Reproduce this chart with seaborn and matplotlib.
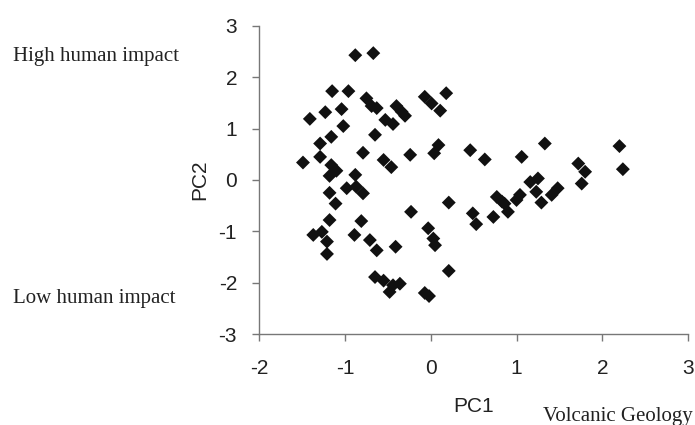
import matplotlib
matplotlib.use("Agg")
import matplotlib.pyplot as plt
import seaborn as sns
import pandas as pd

pc1 = [-0.88, -0.67, -1.15, -0.96, -1.41, -1.23, -1.04, -1.02, -1.16, -1.29,
       -1.29, -1.49, -0.75, -0.69, -0.63, -0.53, -0.44, -0.40, -0.30, -0.65,
       -0.79, -0.55, -0.46, -0.24, -0.07, 0.01, 0.11, 0.18, 0.09, 0.04,
       -1.16, -1.10, -1.18, -0.88, -0.98, -0.87, -0.79, -1.18, -1.11, -1.18,
       -1.37, -1.27, -1.21, -1.21, -0.81, -0.89, -0.71, -0.63, -0.41, -0.23,
       -0.65, -0.55, -0.44, -0.36, -0.48, -0.07, -0.02, -0.03, 0.03, 0.05,
       0.21, 0.21, 0.46, 0.63, 1.06, 1.33, 2.20, 1.72, 2.24, 1.80,
       1.76, 1.16, 1.25, 1.23, 1.29, 1.48, 1.41, 1.04, 1.00, 0.77,
       0.86, 0.73, 0.90, 0.49, 0.53, -0.34, 0.83]
pc2 = [2.43, 2.47, 1.73, 1.73, 1.19, 1.32, 1.38, 1.05, 0.84, 0.71,
       0.45, 0.34, 1.59, 1.44, 1.40, 1.17, 1.09, 1.44, 1.25, 0.88,
       0.53, 0.39, 0.25, 0.49, 1.62, 1.49, 1.35, 1.69, 0.68, 0.52,
       0.29, 0.18, 0.08, 0.10, -0.16, -0.13, -0.26, -0.25, -0.46, -0.78,
       -1.07, -1.01, -1.20, -1.44, -0.80, -1.07, -1.17, -1.37, -1.30, -0.62,
       -1.89, -1.96, -2.05, -2.02, -2.18, -2.20, -2.26, -0.94, -1.14, -1.27,
       -0.44, -1.77, 0.58, 0.40, 0.45, 0.71, 0.66, 0.32, 0.21, 0.16,
       -0.07, -0.04, 0.03, -0.23, -0.44, -0.16, -0.29, -0.29, -0.39, -0.33,
       -0.46, -0.72, -0.62, -0.65, -0.86, 1.33, -0.42]

x_ticks = [-2, -1, 0, 1, 2, 3]
y_ticks = [-3, -2, -1, 0, 1, 2, 3]

df = pd.DataFrame({"PC1": pc1, "PC2": pc2})

sns.set_style("ticks")
plt.rcParams["font.family"] = ["Liberation Sans", "DejaVu Sans"]

fig = plt.figure(figsize=(6.95, 4.25), dpi=100)
ax = fig.add_axes([0.373, 0.214, 0.617, 0.725])

sns.scatterplot(data=df, x="PC1", y="PC2", marker="D", s=50, color="#111111",
                edgecolor="none", linewidth=0, ax=ax, zorder=3)

ax.set_xlim(-2, 3)
ax.set_ylim(-3, 3)
ax.set_xticks(x_ticks)
ax.set_yticks(y_ticks)
ax.set_xticklabels([str(t) for t in x_ticks])
ax.set_yticklabels([str(t) for t in y_ticks])

for side in ["top", "right"]:
    ax.spines[side].set_visible(False)
for side in ["left", "bottom"]:
    ax.spines[side].set_color("#777777")
    ax.spines[side].set_linewidth(1.0)
ax.tick_params(axis="both", direction="out", length=5, width=1.0,
               color="#777777", labelsize=15, labelcolor="#222222")
ax.tick_params(axis="x", pad=13)
ax.tick_params(axis="y", pad=11)

ax.set_xlabel("PC1", fontsize=15, color="#222222", labelpad=14)
ax.set_ylabel("PC2", fontsize=15, color="#222222", labelpad=7)

serif = ["Liberation Serif", "DejaVu Serif"]
fig.text(13 / 695, 1 - 57 / 425, "High human impact", family=serif,
         fontsize=15, color="#222222", ha="left", va="center")
fig.text(13 / 695, 1 - 298 / 425, "Low human impact", family=serif,
         fontsize=15, color="#222222", ha="left", va="center")
fig.text(693 / 695, 1 - 416 / 425, "Volcanic Geology", family=serif,
         fontsize=15, color="#222222", ha="right", va="center")

fig.savefig("out.png", dpi=100, facecolor="white")
